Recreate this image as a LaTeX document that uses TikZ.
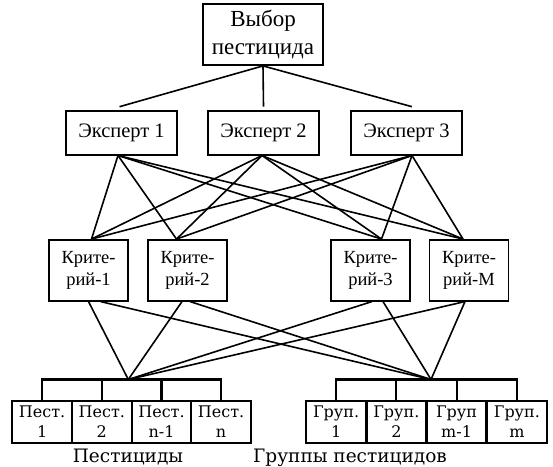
\documentclass[tikz,border=0pt]{standalone}
\usepackage{fontspec}
\setmainfont{Liberation Serif}
\newfontfamily\dvs{DejaVu Serif}
\begin{document}
\begin{tikzpicture}[x=1pt,y=-1pt,
  box/.style={draw,line width=1.8pt,inner sep=0pt,align=center},
  topbox/.style={box,minimum width=120pt,minimum height=61pt,font=\fontsize{23}{27.5}\selectfont},
  expbox/.style={box,minimum width=111pt,minimum height=44pt,font=\fontsize{20.5}{24}\selectfont},
  critbox/.style={box,minimum width=79pt,minimum height=60.7pt,font=\fontsize{18.5}{22}\selectfont},
  leafbox/.style={draw,line width=2.1pt,inner sep=0pt,align=center,minimum width=59.8pt,minimum height=42pt,font=\dvs\fontsize{16}{20}\selectfont},
  conn/.style={line width=1.6pt},
  bar/.style={line width=2.1pt},
  lbl/.style={font=\dvs\fontsize{18.5}{22}\selectfont,anchor=base,inner sep=0pt}]
\useasboundingbox (0,0) rectangle (553,466);

% nodes
\node[topbox] (top) at (263,34.5) {Выбор\\пестицида};
\node[expbox] (E1) at (121.5,132.6) {Эксперт 1};
\node[expbox] (E2) at (263.5,132.6) {Эксперт 2};
\node[expbox] (E3) at (406.5,132.6) {Эксперт 3};

\node[critbox] (K1) at (88.5,270.3) {Крите-\\рий-1};
\node[critbox] (K2) at (187.5,270.3) {Крите-\\рий-2};
\node[critbox] (K3) at (370.5,270.3) {Крите-\\рий-3};
\node[critbox] (K4) at (469,270.3) {Крите-\\рий-М};

\node[leafbox] (P1) at (42.1,421.7) {Пест.\\1};
\node[leafbox] (P2) at (101.8,421.7) {Пест.\\2};
\node[leafbox] (P3) at (161.5,421.7) {Пест.\\n-1};
\node[leafbox] (P4) at (221.1,421.7) {Пест.\\n};

\node[leafbox] (G1) at (336.1,421.7) {Груп.\\1};
\node[leafbox] (G2) at (396.4,421.7) {Груп.\\2};
\node[leafbox] (G3) at (456.6,421.7) {Груп\\m-1};
\node[leafbox] (G4) at (516.9,421.7) {Груп.\\m};

\node[lbl] (L1) at (128,462) {Пестициды};
\node[lbl] (L2) at (350,462) {Группы пестицидов};

\coordinate (J1) at (128.3,379.5);
\coordinate (J2) at (431,379.5);

% top -> experts
\draw[conn] (top.south) -- ([xshift=-2pt,yshift=3pt]E1.north);
\draw[conn] (top.south) -- ([yshift=3pt]E2.north);
\draw[conn] (top.south) -- ([xshift=5.5pt,yshift=3pt]E3.north);

% experts -> criteria
\coordinate (e1) at ([xshift=-3.5pt]E1.south);
\coordinate (e2) at ([xshift=-1.5pt]E2.south);
\coordinate (e3) at ([xshift=5.5pt]E3.south);
\coordinate (k1) at ([xshift=3pt]K1.north);
\coordinate (k2) at ([xshift=-11pt]K2.north);
\coordinate (k3) at ([xshift=11pt]K3.north);
\coordinate (k4) at ([xshift=-6pt]K4.north);
\foreach \e in {e1,e2,e3}
  \foreach \k in {k1,k2,k3,k4}
    \draw[conn] (\e) -- (\k);

% criteria -> junctions
\draw[conn] (K1.south) -- (J1);
\draw[conn] ([xshift=12pt]K1.south) -- (J2);
\draw[conn] ([xshift=-5.5pt]K2.south) -- (J1);
\draw[conn] ([xshift=2.5pt]K2.south) -- (J2);
\draw[conn] ([xshift=1.5pt]K3.south) -- (J1);
\draw[conn] ([xshift=12.5pt]K3.south) -- (J2);
\draw[conn] ([xshift=-4pt]K4.south) -- (J1);
\draw[conn] ([xshift=-4pt]K4.south) -- (J2);

% brackets
\draw[bar] (P1.north) -- (P1.north |- J1) -- (P4.north |- J1) -- (P4.north);
\draw[bar] (P2.north) -- (P2.north |- J1);
\draw[bar] (P3.north) -- (P3.north |- J1);
\draw[bar] (G1.north) -- (G1.north |- J2) -- (G4.north |- J2) -- (G4.north);
\draw[bar] (G2.north) -- (G2.north |- J2);
\draw[bar] (G3.north) -- (G3.north |- J2);
\end{tikzpicture}
\end{document}
